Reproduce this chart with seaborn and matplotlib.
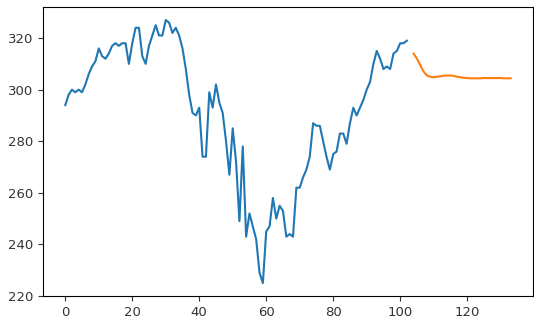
import numpy as np
import pandas as pd
import matplotlib
matplotlib.use("Agg")
import matplotlib.pyplot as plt
import seaborn as sns

# Observed series (index 0..102)
observed = [
    294, 298, 300, 299, 300, 299, 302, 306, 309, 311,
    316, 313, 312, 314, 317, 318, 317, 318, 318, 310,
    318, 324, 324, 313, 310, 317, 321, 325, 321, 321,
    327, 326, 322, 324, 321, 316, 308, 298, 291, 290,
    293, 274, 274, 299, 293, 302, 295, 291, 280, 267,
    285, 272, 249, 278, 243, 252, 247, 242, 229, 225,
    245, 247, 258, 250, 255, 253, 243, 244, 243, 262,
    262, 266, 269, 274, 287, 286, 286, 280, 274, 269,
    275, 276, 283, 283, 279, 287, 293, 290, 293, 296,
    300, 303, 310, 315, 312, 308, 309, 308, 314, 315,
    318, 318, 319,
]

# Forecast series (index 104..133)
forecast = [
    314, 312, 309.5, 307, 305.5, 305, 304.8, 305, 305.2, 305.4,
    305.5, 305.5, 305.3, 305, 304.8, 304.6, 304.5, 304.4, 304.4, 304.4,
    304.4, 304.5, 304.5, 304.5, 304.5, 304.5, 304.5, 304.4, 304.4, 304.4,
]
forecast_start = 104

obs_df = pd.DataFrame({"t": np.arange(len(observed)), "value": observed})
fc_df = pd.DataFrame({"t": np.arange(forecast_start, forecast_start + len(forecast)),
                      "value": forecast})

fig = plt.figure(figsize=(5.34, 3.27), dpi=100)
ax = fig.add_axes([0.0805, 0.094, 0.9176, 0.885])

sns.lineplot(data=obs_df, x="t", y="value", ax=ax, color="tab:blue", linewidth=1.5)
sns.lineplot(data=fc_df, x="t", y="value", ax=ax, color="tab:orange", linewidth=1.5)

ax.set_xlabel("")
ax.set_ylabel("")
ax.set_xticks([0, 20, 40, 60, 80, 100, 120])
ax.set_yticks([220, 240, 260, 280, 300, 320])
ax.tick_params(labelsize=9.5, colors="#333333")

fig.savefig("out.png", dpi=100)
